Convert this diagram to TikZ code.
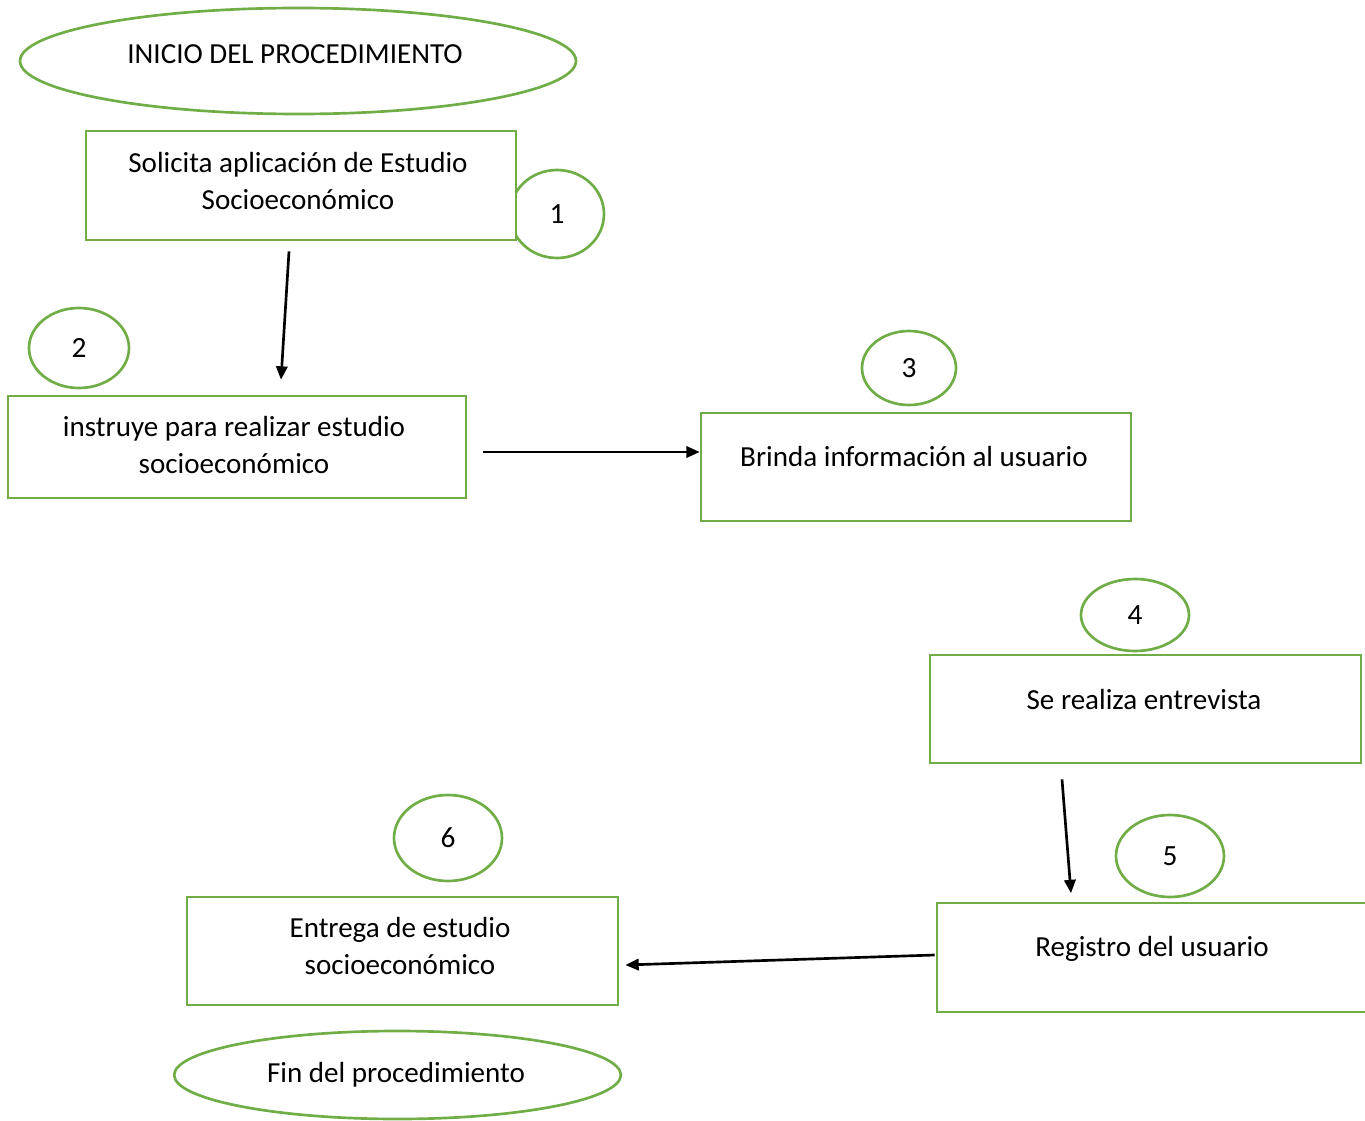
\documentclass[tikz,border=0pt]{standalone}
\usepackage{fontspec}
\setmainfont{Carlito}
\usetikzlibrary{shapes.geometric,arrows.meta,calc}
\definecolor{flgreen}{RGB}{112,173,71}
\tikzset{
  stepbox/.style={draw=flgreen, fill=white, line width=2pt, rectangle, inner sep=0pt},
  numoval/.style={draw=flgreen, line width=2pt, ellipse, inner sep=0pt, font=\fontsize{22}{26}\selectfont},
  termoval/.style={draw=flgreen, line width=2pt, ellipse, inner sep=0pt},
  lbl/.style={align=center, inner sep=0pt, font=\fontsize{21.8}{27.75}\selectfont},
  flow/.style={line width=2pt, -{Triangle[length=10pt,width=8.5pt]}}
}
\begin{document}
\begin{tikzpicture}[x=0.75pt,y=-0.75pt]
\useasboundingbox (0,0) rectangle (1365,1121);
% terminals
\node[termoval, minimum width=417pt, minimum height=79.5pt] (start) at (298,61) {};
\node[lbl] (tstart) at (295,54) {INICIO DEL PROCEDIMIENTO};
\node[termoval, minimum width=335pt, minimum height=66pt] (finish) at (397.5,1075) {};
\node[lbl] (tend) at (396,1075) {Fin del procedimiento};
% number oval behind box 1
\node[numoval, minimum width=70.5pt, minimum height=66pt] (n1) at (557,214) {1};
% boxes
\node[stepbox, minimum width=322.5pt, minimum height=81.75pt] (b1) at (301,185.5) {};
\node[lbl] (t1) at (298,181) {Solicita aplicación de Estudio\\Socioeconómico};
\node[stepbox, minimum width=343.5pt, minimum height=76.5pt] (b2) at (237,447) {};
\node[lbl] (t2) at (234,445) {instruye para realizar estudio\\socioeconómico};
\node[stepbox, minimum width=322.5pt, minimum height=81pt] (b3) at (916,467) {};
\node[lbl] (t3) at (914,457) {Brinda información al usuario};
\node[stepbox, minimum width=323.25pt, minimum height=81pt] (b4) at (1145.5,709) {};
\node[lbl] (t4) at (1144,700) {Se realiza entrevista};
\node[stepbox, minimum width=323.25pt, minimum height=81.75pt] (b5) at (1152.5,957.5) {};
\node[lbl] (t5) at (1152,949) {Registro del usuario};
\node[stepbox, minimum width=323.25pt, minimum height=81pt] (b6) at (402.5,951) {};
\node[lbl] (t6) at (400,946) {Entrega de estudio\\socioeconómico};
% number ovals
\node[numoval, minimum width=75pt, minimum height=60pt] (n2) at (79,348) {2};
\node[numoval, minimum width=70.5pt, minimum height=55.5pt] (n3) at (909,368) {3};
\node[numoval, minimum width=81pt, minimum height=54pt] (n4) at (1135,615) {4};
\node[numoval, minimum width=81pt, minimum height=61.5pt] (n5) at (1170,856) {5};
\node[numoval, minimum width=81pt, minimum height=64.5pt] (n6) at (448,838) {6};
% connectors
\draw[flow] ($(b1.south)+(-12,10)$) -- ($(b2.north)+(44,-15)$);
\draw[flow] ($(b2.east)+(16,5)$) -- ($(b3.west)+(0,-15)$);
\draw[flow] ($(b4.south)+(-83.5,15)$) -- ($(b5.north)+(-81.5,-8.5)$);
\draw[flow] ($(b5.west)+(-1,-2.5)$) -- ($(b6.east)+(6,14)$);
\end{tikzpicture}
\end{document}
